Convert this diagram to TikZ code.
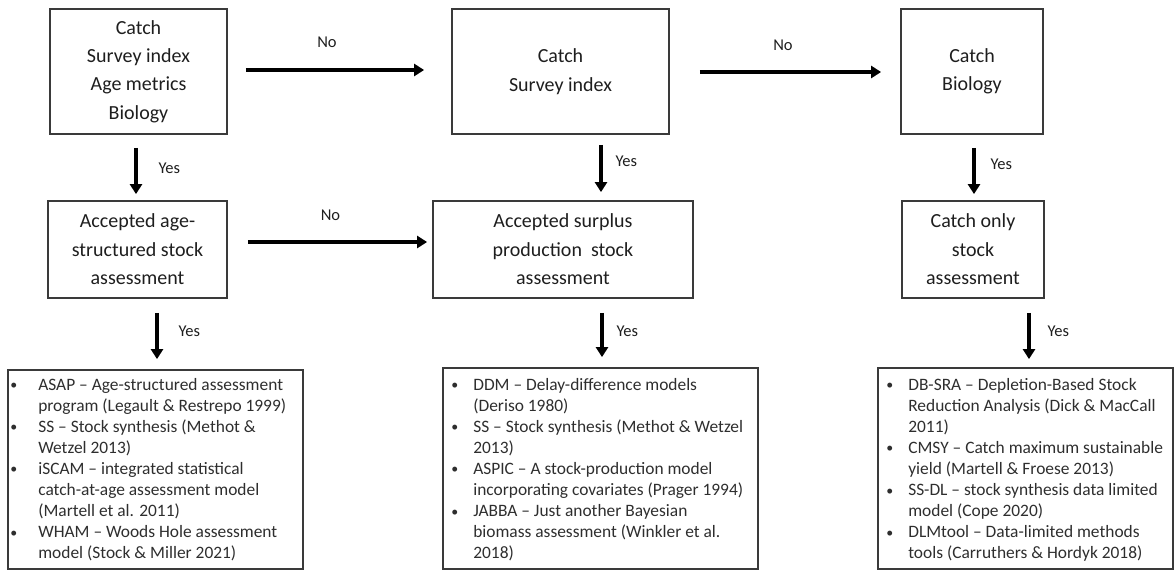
\documentclass[tikz,border=0pt]{standalone}
\usepackage{fontspec}
\setmainfont{Carlito}
\usetikzlibrary{arrows.meta}
\definecolor{boxline}{HTML}{3A3A3A}
\definecolor{txt}{HTML}{1E1E1E}
\definecolor{ltxt}{HTML}{2E2E2E}
\newcommand{\bul}[1]{\makebox[#1][l]{\raisebox{0.5pt}{\scalebox{0.8}{\textbullet}}}}
\begin{document}
\begin{tikzpicture}[x=1pt,y=-1pt,
  box/.style={draw=boxline,line width=1.8pt,inner sep=0pt,align=center,text=txt,
    font=\fontsize{20}{28.4}\selectfont},
  listbox/.style={draw=boxline,line width=1.8pt,inner sep=0pt},
  listtext/.style={anchor=north west,inner sep=0pt,align=left,text=ltxt,
    font=\fontsize{17.4}{21.1}\selectfont},
  arr/.style={-{Triangle[length=10pt,width=12pt]},line width=3.2pt,black},
  lab/.style={font=\fontsize{16.5}{20}\selectfont,text=txt,inner sep=0pt}
]
\useasboundingbox (0,0) rectangle (1175,571);
% top row
\node[box,minimum width=177pt,minimum height=125pt] (b1) at (138.5,71.5)
  {Catch\\Survey index\\Age metrics\\Biology};
\node[box,minimum width=217pt,minimum height=125pt] (b2) at (560.5,71.5)
  {Catch\\Survey index};
\node[box,minimum width=142pt,minimum height=125pt] (b3) at (972,71.5)
  {Catch\\Biology};
% middle row
\node[box,minimum width=179pt,minimum height=97pt] (b4) at (137.5,249.5)
  {Accepted age-\\structured stock\\assessment};
\node[box,minimum width=260pt,minimum height=97pt] (b5) at (563,249.5)
  {Accepted surplus\\production\ \ stock\\assessment};
\node[box,minimum width=142pt,minimum height=97pt] (b6) at (973,249.5)
  {Catch only\\stock\\assessment};
% bottom row
\node[listbox,minimum width=295pt,minimum height=199pt] (b7) at (155.5,469.5) {};
\node[listbox,minimum width=315pt,minimum height=201pt] (b8) at (600.5,468.5) {};
\node[listbox,minimum width=295pt,minimum height=201pt] (b9) at (1025.5,468.5) {};

\node[listtext] (t7) at ([xshift=3pt,yshift=-6pt]b7.north west)
  {\strut\bul{28pt}ASAP -- Age-structured assessment\\
   \hspace*{28pt}program (Legault \& Restrepo 1999)\\
   \bul{28pt}SS -- Stock synthesis (Methot \&\\
   \hspace*{28pt}Wetzel 2013)\\
   \bul{28pt}iSCAM -- integrated statistical\\
   \hspace*{28pt}catch-at-age assessment model\\
   \hspace*{28pt}(Martell et al. 2011)\\
   \bul{28pt}WHAM -- Woods Hole assessment\\
   \hspace*{28pt}model (Stock \& Miller 2021)};
\node[listtext] (t8) at ([xshift=9pt,yshift=-8pt]b8.north west)
  {\strut\bul{22pt}DDM -- Delay-difference models\\
   \hspace*{22pt}(Deriso 1980)\\
   \bul{22pt}SS -- Stock synthesis (Methot \& Wetzel\\
   \hspace*{22pt}2013)\\
   \bul{22pt}ASPIC -- A stock-production model\\
   \hspace*{22pt}incorporating covariates (Prager 1994)\\
   \bul{22pt}JABBA -- Just another Bayesian\\
   \hspace*{22pt}biomass assessment (Winkler et al.\\
   \hspace*{22pt}2018)};
\node[listtext] (t9) at ([xshift=9pt,yshift=-8pt]b9.north west)
  {\strut\bul{22pt}DB-SRA -- Depletion-Based Stock\\
   \hspace*{22pt}Reduction Analysis (Dick \& MacCall\\
   \hspace*{22pt}2011)\\
   \bul{22pt}CMSY -- Catch maximum sustainable\\
   \hspace*{22pt}yield (Martell \& Froese 2013)\\
   \bul{22pt}SS-DL -- stock synthesis data limited\\
   \hspace*{22pt}model (Cope 2020)\\
   \bul{22pt}DLMtool -- Data-limited methods\\
   \hspace*{22pt}tools (Carruthers \& Hordyk 2018)};

% horizontal "No" arrows
\draw[arr] ([xshift=18pt,yshift=1.5pt]b1.east) -- ([xshift=-27pt,yshift=1.5pt]b2.west)
  node[lab,midway,xshift=-8pt,yshift=28pt] {No};
\draw[arr] ([xshift=30pt,yshift=-0.5pt]b2.east) -- ([xshift=-19pt,yshift=-0.5pt]b3.west)
  node[lab,midway,xshift=-7.5pt,yshift=27pt] {No};
\draw[arr] ([xshift=20pt,yshift=7.5pt]b4.east) -- ([xshift=-5pt,yshift=7.5pt]b5.west)
  node[lab,midway,xshift=-7pt,yshift=27pt] {No};

% vertical "Yes" arrows
\draw[arr] ([xshift=-2.5pt,yshift=-13pt]b1.south) -- ([xshift=-1.5pt,yshift=6pt]b4.north)
  node[lab,midway,anchor=west,xshift=21pt,yshift=3pt] {Yes};
\draw[arr] ([xshift=40.5pt,yshift=-10pt]b2.south) -- ([xshift=38pt,yshift=8pt]b5.north)
  node[lab,midway,anchor=west,xshift=13pt,yshift=7pt] {Yes};
\draw[arr] ([xshift=2pt,yshift=-13pt]b3.south) -- ([xshift=1pt,yshift=6pt]b6.north)
  node[lab,midway,anchor=west,xshift=15pt,yshift=7pt] {Yes};
\draw[arr] ([xshift=19.5pt,yshift=-14pt]b4.south) -- ([xshift=1.5pt,yshift=10pt]b7.north)
  node[lab,midway,anchor=west,xshift=20pt,yshift=5pt] {Yes};
\draw[arr] ([xshift=39pt,yshift=-14pt]b5.south) -- ([xshift=1.5pt,yshift=10pt]b8.north)
  node[lab,midway,anchor=west,xshift=13pt,yshift=4pt] {Yes};
\draw[arr] ([xshift=56pt,yshift=-14pt]b6.south) -- ([xshift=3.5pt,yshift=8pt]b9.north)
  node[lab,midway,anchor=west,xshift=17pt,yshift=5pt] {Yes};
\end{tikzpicture}
\end{document}
